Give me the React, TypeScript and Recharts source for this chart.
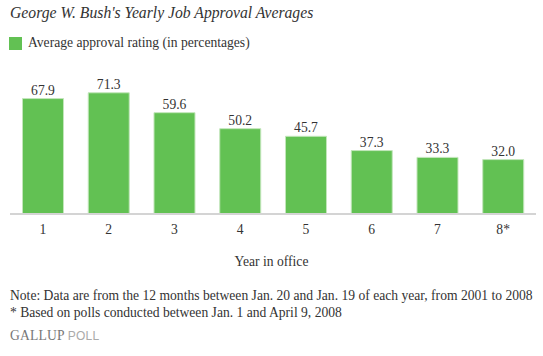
import { Bar, BarChart, LabelList, XAxis, YAxis } from "recharts";

const years = ["1", "2", "3", "4", "5", "6", "7", "8*"];
const approval = [67.9, 71.3, 59.6, 50.2, 45.7, 37.3, 33.3, 32.0];

const data = years.map((year, i) => ({ year, approval: approval[i] }));

const serif = "'Liberation Serif', 'DejaVu Serif', serif";
const ink = "#333333";

export default function App() {
  return (
    <div
      style={{
        position: "absolute",
        left: 0,
        top: 0,
        width: 543,
        height: 356,
        background: "#fff",
        fontFamily: serif,
        color: ink,
      }}
    >
      <div style={{ position: "absolute", left: 10, top: 4, fontSize: 15.7, fontStyle: "italic" }}>
        George W. Bush's Yearly Job Approval Averages
      </div>
      <div style={{ position: "absolute", left: 9, top: 35, display: "flex", alignItems: "center" }}>
        <span style={{ width: 13, height: 13, background: "#62c153", display: "inline-block" }} />
        <span style={{ marginLeft: 6, fontSize: 13.6 }}>Average approval rating (in percentages)</span>
      </div>

      <BarChart
        width={543}
        height={356}
        data={data}
        margin={{ top: 78, right: 7, left: 10, bottom: 112 }}
        barCategoryGap="19%"
        style={{ position: "absolute", left: 0, top: 0 }}
      >
        <YAxis hide domain={[0, 80]} />
        <XAxis
          dataKey="year"
          axisLine={{ stroke: "#d4d4d4", strokeWidth: 2 }}
          tickLine={false}
          tick={{ fontSize: 13.6, fill: ink, fontFamily: serif }}
          tickMargin={4}
        />
        <Bar dataKey="approval" fill="#62c153" stroke="#c3e6bb" strokeWidth={1} isAnimationActive={false}>
          <LabelList
            dataKey="approval"
            position="top"
            offset={4}
            formatter={(v: number) => v.toFixed(1)}
            style={{ fontSize: 13.6, fill: ink, fontFamily: serif }}
          />
        </Bar>
      </BarChart>

      <div style={{ position: "absolute", left: 0, width: 543, top: 254, textAlign: "center", fontSize: 13.6 }}>
        Year in office
      </div>
      <div style={{ position: "absolute", left: 10, top: 287, fontSize: 13.6, lineHeight: "17px" }}>
        <div>Note: Data are from the 12 months between Jan. 20 and Jan. 19 of each year, from 2001 to 2008</div>
        <div>* Based on polls conducted between Jan. 1 and April 9, 2008</div>
      </div>
      <div style={{ position: "absolute", left: 10, top: 328, fontSize: 13.6, letterSpacing: 0.2 }}>
        <span style={{ color: "#777" }}>GALLUP</span>
        <span style={{ color: "#aaa", fontFamily: "'Liberation Sans', sans-serif", fontSize: 12, marginLeft: 3 }}>
          POLL
        </span>
      </div>
    </div>
  );
}
